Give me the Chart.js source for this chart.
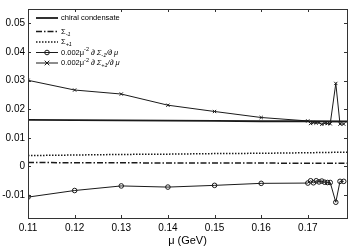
<!DOCTYPE html>
<html>
<head>
<meta charset="utf-8">
<script src="https://cdn.jsdelivr.net/npm/chart.js@4/dist/chart.umd.min.js"></script>
<style>
  html, body { margin: 0; padding: 0; background: #fff; }
  #wrap { width: 354px; height: 251px; position: relative; }
</style>
</head>
<body>
<div id="wrap"><canvas id="chart"></canvas></div>
<script>
// x positions (GeV) for the flat curves
const muLine = [0.11, 0.12, 0.13, 0.14, 0.15, 0.16, 0.17, 0.1784];
const condensate = [0.0163, 0.0162, 0.0161, 0.0160, 0.0159, 0.0158, 0.0158, 0.0157];
const sigmaMinus = [0.0014, 0.0013, 0.0013, 0.0012, 0.0012, 0.0012, 0.0011, 0.0011];
const sigmaPlus = [0.0038, 0.0040, 0.0042, 0.0043, 0.0045, 0.0046, 0.0048, 0.0050];

// x positions for the derivative curves
const muDeriv = [0.11, 0.12, 0.13, 0.14, 0.15, 0.16, 0.17, 0.1706, 0.1712, 0.1718,
                 0.1724, 0.1730, 0.1736, 0.1742, 0.1748, 0.1760, 0.1769, 0.1777];
const dSigmaMinus = [-0.0107, -0.0084, -0.0068, -0.0072, -0.0066, -0.0059, -0.0058, -0.0050, -0.0057, -0.0050,
                     -0.0054, -0.0051, -0.0055, -0.0056, -0.0056, -0.0125, -0.0052, -0.0052];
const dSigmaPlus = [0.0301, 0.0267, 0.0253, 0.0214, 0.0192, 0.0171, 0.0159, 0.0150, 0.0153, 0.0152,
                    0.0153, 0.0147, 0.0151, 0.0150, 0.0149, 0.0290, 0.0148, 0.0148];

const xTicks = [0.11, 0.12, 0.13, 0.14, 0.15, 0.16, 0.17];
const yTicks = [-0.01, 0, 0.01, 0.02, 0.03, 0.04, 0.05];

const ink = '#1a1a1a';
const FONT = '"Liberation Sans", Arial, sans-serif';

function pts(xs, ys) {
    return xs.map((x, i) => ({ x: x, y: ys[i] }));
}

// legend text pieces: s = 'sub' | 'sup', it = italic
const legendRows = [
    [{ t: 'chiral condensate' }],
    [{ t: 'Σ' }, { t: '-1', s: 'sub', it: true }],
    [{ t: 'Σ' }, { t: '+1', s: 'sub', it: true }],
    [{ t: '0.002μ' }, { t: '-2', s: 'sup' }, { t: ' ∂ Σ', it: true }, { t: '-1', s: 'sub', it: true }, { t: '/∂ μ', it: true }],
    [{ t: '0.002μ' }, { t: '-2', s: 'sup' }, { t: ' ∂ Σ', it: true }, { t: '+1', s: 'sub', it: true }, { t: '/∂ μ', it: true }]
];
const legendY = [18, 31.5, 42, 52.5, 63];

function drawMarker(ctx, style, x, y, r) {
    ctx.beginPath();
    if (style === 'circle') {
        ctx.arc(x, y, r, 0, Math.PI * 2);
    } else if (style === 'crossRot') {
        ctx.moveTo(x - r, y - r); ctx.lineTo(x + r, y + r);
        ctx.moveTo(x + r, y - r); ctx.lineTo(x - r, y + r);
    }
    ctx.stroke();
}

// frame, inward ticks on all four sides, and the legend
const framePlugin = {
    id: 'frame',
    afterDatasetsDraw(chart) {
        const ctx = chart.ctx;
        const a = chart.chartArea;
        const xs = chart.scales.x, ys = chart.scales.y;
        ctx.save();
        ctx.strokeStyle = '#333';
        ctx.lineWidth = 1;
        ctx.strokeRect(Math.round(a.left) + 0.5, Math.round(a.top) + 0.5,
                       Math.round(a.right - a.left), Math.round(a.bottom - a.top));
        ctx.beginPath();
        xTicks.forEach(v => {
            const px = Math.round(xs.getPixelForValue(v)) + 0.5;
            ctx.moveTo(px, a.bottom); ctx.lineTo(px, a.bottom - 3);
            ctx.moveTo(px, a.top); ctx.lineTo(px, a.top + 3);
        });
        yTicks.forEach(v => {
            const py = Math.round(ys.getPixelForValue(v)) + 0.5;
            ctx.moveTo(a.left, py); ctx.lineTo(a.left + 3, py);
            ctx.moveTo(a.right, py); ctx.lineTo(a.right - 3, py);
        });
        ctx.stroke();

        // legend
        const x0 = 36, x1 = 58, tx = 61;
        chart.data.datasets.forEach((ds, i) => {
            const y = legendY[i];
            ctx.strokeStyle = ds.borderColor;
            ctx.lineWidth = ds.borderWidth;
            ctx.setLineDash(ds.borderDash || []);
            ctx.beginPath();
            ctx.moveTo(x0, y); ctx.lineTo(x1, y);
            ctx.stroke();
            ctx.setLineDash([]);
            if (ds.pointRadius > 0) {
                ctx.lineWidth = 1;
                drawMarker(ctx, ds.pointStyle, (x0 + x1) / 2, y, ds.pointRadius);
            }
            let cx = tx;
            ctx.fillStyle = '#000';
            ctx.textBaseline = 'middle';
            ctx.textAlign = 'left';
            legendRows[i].forEach(p => {
                const small = p.s === 'sub' || p.s === 'sup';
                const size = small ? 5.5 : 7.5;
                ctx.font = (p.it ? 'italic ' : '') + size + 'px ' + FONT;
                const dy = p.s === 'sub' ? 2.5 : (p.s === 'sup' ? -3 : 0);
                ctx.fillText(p.t, cx, y + dy);
                cx += ctx.measureText(p.t).width;
            });
        });
        ctx.restore();
    }
};

const ctx = document.getElementById('chart');
new Chart(ctx, {
    type: 'line',
    data: {
        datasets: [
            {
                label: 'chiral condensate',
                data: pts(muLine, condensate),
                borderColor: ink,
                borderWidth: 1.8,
                pointRadius: 0
            },
            {
                label: 'Sigma -1',
                data: pts(muLine, sigmaMinus),
                borderColor: ink,
                borderWidth: 1.5,
                borderDash: [6, 2, 1.5, 2],
                pointRadius: 0
            },
            {
                label: 'Sigma +1',
                data: pts(muLine, sigmaPlus),
                borderColor: ink,
                borderWidth: 1.5,
                borderDash: [1.5, 1.5],
                pointRadius: 0
            },
            {
                label: 'dSigma -1',
                data: pts(muDeriv, dSigmaMinus),
                borderColor: ink,
                borderWidth: 1,
                pointStyle: 'circle',
                pointRadius: 2.3,
                pointBorderWidth: 1,
                pointBackgroundColor: 'rgba(0,0,0,0)',
                pointBorderColor: ink
            },
            {
                label: 'dSigma +1',
                data: pts(muDeriv, dSigmaPlus),
                borderColor: ink,
                borderWidth: 1,
                pointStyle: 'crossRot',
                pointRadius: 2.3,
                pointBorderWidth: 1,
                pointBorderColor: ink
            }
        ]
    },
    options: {
        responsive: true,
        maintainAspectRatio: false,
        animation: false,
        layout: { padding: { top: 4, right: 7, left: 0, bottom: 0 } },
        plugins: {
            legend: { display: false },
            tooltip: { enabled: false }
        },
        scales: {
            x: {
                type: 'linear',
                min: 0.11,
                max: 0.1784,
                afterBuildTicks: scale => { scale.ticks = xTicks.map(v => ({ value: v })); },
                afterFit: scale => { scale.height = 33; },
                ticks: {
                    color: '#000',
                    font: { family: FONT, size: 10 },
                    padding: 4,
                    maxRotation: 0,
                    callback: v => v.toFixed(2)
                },
                grid: { display: false, drawTicks: false, tickLength: 0 },
                border: { display: false },
                title: {
                    display: true,
                    text: 'μ (GeV)',
                    color: '#000',
                    font: { family: FONT, size: 11 },
                    padding: { top: 0, bottom: 3 }
                }
            },
            y: {
                type: 'linear',
                min: -0.018,
                max: 0.055,
                afterBuildTicks: scale => { scale.ticks = yTicks.map(v => ({ value: v })); },
                afterFit: scale => { scale.width = 28; },
                ticks: {
                    color: '#000',
                    font: { family: FONT, size: 10 },
                    padding: 3,
                    callback: v => (Math.abs(v) < 1e-9 ? '0' : v.toFixed(2))
                },
                grid: { display: false, drawTicks: false, tickLength: 0 },
                border: { display: false }
            }
        }
    },
    plugins: [framePlugin]
});
</script>
</body>
</html>
